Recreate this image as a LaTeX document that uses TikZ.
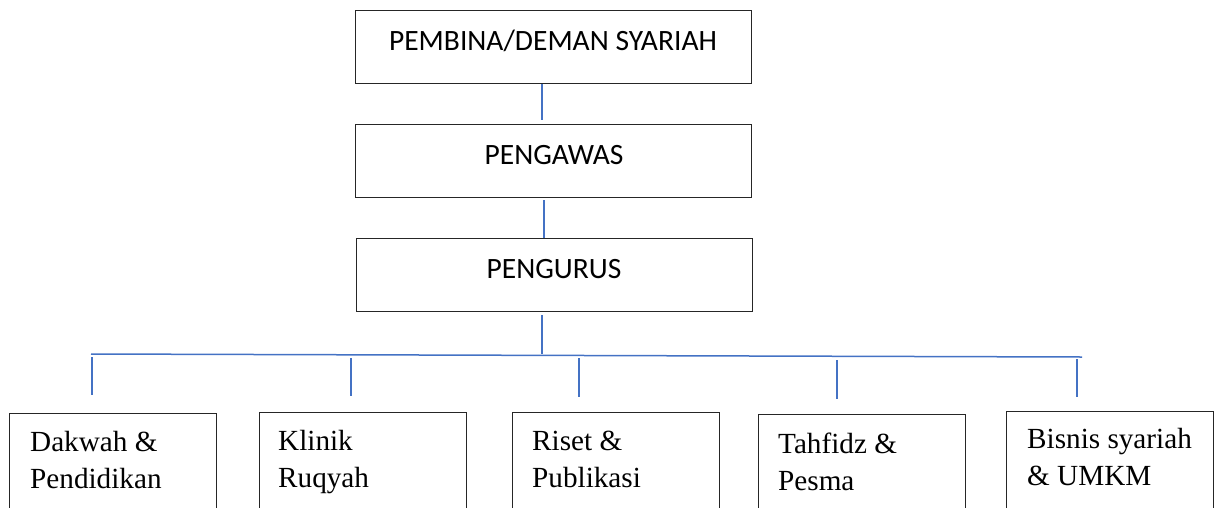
\documentclass[tikz,border=0pt]{standalone}
\usepackage{fontspec}
\setmainfont{Liberation Serif}
\newfontfamily\calib{Carlito}
\usetikzlibrary{calc}
\definecolor{linkblue}{HTML}{4472C4}
\definecolor{boxline}{HTML}{262626}
\tikzset{
  x=1pt, y=-1pt,
  topbox/.style={draw=boxline, line width=1.4pt, minimum width=396pt, minimum height=73pt, inner sep=0pt, anchor=north west},
  botbox/.style={draw=boxline, line width=1.4pt, minimum width=207pt, minimum height=120pt, inner sep=0pt, anchor=north west},
  toptext/.style={font=\calib\fontsize{29.5}{35}\selectfont, inner sep=0pt, anchor=base},
  bottext/.style={font=\fontsize{29.2}{37}\selectfont, inner sep=0pt, anchor=base west},
  link/.style={draw=linkblue, line width=1.5pt},
}
\begin{document}
\begin{tikzpicture}
\useasboundingbox (0,0) rectangle (1219,507);
\clip (0,0) rectangle (1219,507);
% top boxes
\node[topbox] (pembina) at (355,10) {};
\node[toptext] (tpembina) at (553,50) {PEMBINA/DEMAN SYARIAH};
\node[topbox] (pengawas) at (355,124) {};
\node[toptext] (tpengawas) at (554,164) {PENGAWAS};
\node[topbox] (pengurus) at (356,238) {};
\node[toptext] (tpengurus) at (554,278) {PENGURUS};
% bottom boxes
\node[botbox] (dakwah) at (9,413) {};
\node[bottext] (tdakwah1) at (30,451) {Dakwah \&};
\node[bottext] (tdakwah2) at (30,488) {Pendidikan};
\node[botbox] (klinik) at (259,412) {};
\node[bottext] (tklinik1) at (278,450) {Klinik};
\node[bottext] (tklinik2) at (278,487) {Ruqyah};
\node[botbox] (riset) at (512,412) {};
\node[bottext] (triset1) at (532,450) {Riset \&};
\node[bottext] (triset2) at (532,487) {Publikasi};
\node[botbox] (tahfidz) at (758,414) {};
\node[bottext] (ttahfidz1) at (778,453) {Tahfidz \&};
\node[bottext] (ttahfidz2) at (778,490) {Pesma};
\node[botbox] (bisnis) at (1006,411) {};
\node[bottext] (tbisnis1) at (1027,448) {Bisnis syariah};
\node[bottext] (tbisnis2) at (1027,485) {\& UMKM};
% connectors
\coordinate (a1) at (542,84);  \coordinate (a2) at (542,120);
\coordinate (b1) at (544,200); \coordinate (b2) at (544,238);
\coordinate (c1) at (542,315); \coordinate (c2) at (542,354);
\coordinate (hl) at (91,354);  \coordinate (hr) at (1082,357);
\coordinate (d1) at (92,357);   \coordinate (d2) at (92,395);
\coordinate (k1) at (351,358);  \coordinate (k2) at (351,396);
\coordinate (r1) at (579,358);  \coordinate (r2) at (579,397);
\coordinate (t1) at (837,360);  \coordinate (t2) at (837,399);
\coordinate (s1) at (1077,359); \coordinate (s2) at (1077,397);
\draw[link] (a1) -- (a2);
\draw[link] (b1) -- (b2);
\draw[link] (c1) -- (c2);
\draw[link] (hl) -- (hr);
\draw[link] (d1) -- (d2);
\draw[link] (k1) -- (k2);
\draw[link] (r1) -- (r2);
\draw[link] (t1) -- (t2);
\draw[link] (s1) -- (s2);
\end{tikzpicture}
\end{document}
